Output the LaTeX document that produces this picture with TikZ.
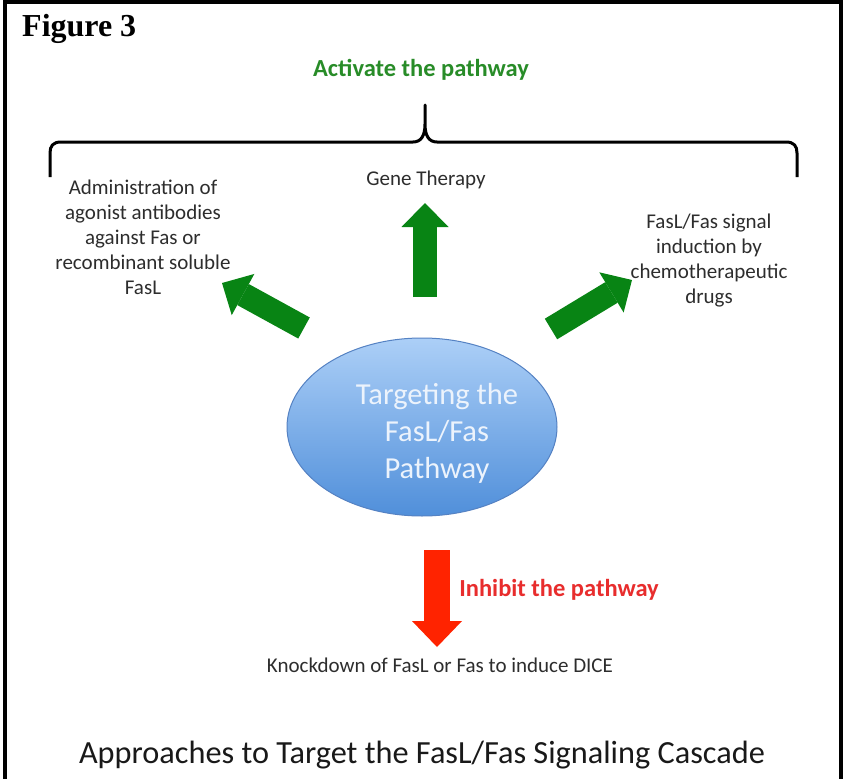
\documentclass[tikz,border=0pt]{standalone}
\usepackage{fontspec}
\setmainfont{Carlito}
\newfontfamily\figfont{Liberation Serif}
\usetikzlibrary{arrows.meta,shapes.geometric}
\definecolor{arrowgreen}{RGB}{8,132,20}
\definecolor{textgreen}{RGB}{40,140,40}
\definecolor{textred}{RGB}{232,45,45}
\definecolor{arrowred}{RGB}{255,35,0}
\definecolor{labelgray}{RGB}{45,45,45}
\definecolor{captiongray}{RGB}{25,25,25}
\definecolor{elltop}{RGB}{172,207,247}
\definecolor{ellbot}{RGB}{80,143,218}
\definecolor{elledge}{RGB}{85,130,195}
\definecolor{elltext}{RGB}{236,243,252}
\begin{document}
\begin{tikzpicture}[x=1pt,y=-1pt,
  lbl/.style={text=labelgray, inner sep=0pt, font=\fontsize{21}{25}\selectfont},
  ttl/.style={inner sep=0pt, font=\bfseries\fontsize{24.5}{29}\selectfont},
  garrow/.style={draw=arrowgreen, line width=24pt,
    -{Triangle[width=47pt,length=24pt,line width=0pt,fill=arrowgreen]}},
  rarrow/.style={draw=arrowred, line width=26pt,
    -{Triangle[width=50pt,length=26pt,line width=0pt,fill=arrowred]}},
  bracestyle/.style={draw=black, line width=3pt, line join=round}]
\useasboundingbox (0,0) rectangle (847,779);
\fill[white] (0,0) rectangle (847,779);
% frame (open at the bottom)
\draw[line width=3.5pt] (5,782) -- (5,2) -- (841,2) -- (841,782);
% title
\node[anchor=base west, inner sep=0pt] (fig) at (22,36) {\figfont\bfseries\fontsize{32}{38}\selectfont Figure 3};
\node[ttl, text=textgreen] (act) at (421,70) {Activate the pathway};
% brace
\draw[bracestyle] (50,177) -- (50,153) .. controls (50,146) and (53,142) .. (61,142)
  -- (413,142) .. controls (421,142) and (425,136) .. (425,124) -- (425,105)
  -- (425,124) .. controls (425,136) and (429,142) .. (437,142)
  -- (786,142) .. controls (794,142) and (797,146) .. (797,153) -- (797,177);
% labels
\node[lbl] (gene) at (426,180) {Gene Therapy};
\node[lbl, align=center] (admin) at (143,237) {Administration of\\agonist antibodies\\against Fas or\\recombinant soluble\\FasL};
\node[lbl, align=center] (chemo) at (709,261) {FasL/Fas signal\\induction by\\chemotherapeutic\\drugs};
% central ellipse
\node[ellipse, minimum width=270pt, minimum height=178pt, inner sep=0pt,
  top color=elltop, bottom color=ellbot, draw=elledge, line width=1pt] (pathway) at (422,427) {};
\node[align=center, text=elltext, inner sep=0pt, font=\fontsize{30.5}{37}\selectfont]
  (pathtext) at ([xshift=15pt,yshift=-6pt]pathway.center) {Targeting the\\FasL/Fas\\Pathway};
% green arrows
\coordinate (upT) at (425,297); \coordinate (upH) at (425,203);
\coordinate (lT) at (304,328);  \coordinate (lH) at (222,283);
\coordinate (rT) at (551,329);  \coordinate (rH) at (632,280);
\draw[garrow] (upT) -- (upH);
\draw[garrow] (lT) -- (lH);
\draw[garrow] (rT) -- (rH);
% red arrow
\coordinate (dT) at (437,550); \coordinate (dH) at (437,647);
\draw[rarrow] (dT) -- (dH);
\node[ttl, text=textred] (inh) at (559,590) {Inhibit the pathway};
\node[lbl] (knock) at (440,665) {Knockdown of FasL or Fas to induce DICE};
% caption
\node[inner sep=0pt, text=captiongray, font=\fontsize{32.3}{38}\selectfont] (cap) at (422,755) {Approaches to Target the FasL/Fas Signaling Cascade};
\end{tikzpicture}
\end{document}
